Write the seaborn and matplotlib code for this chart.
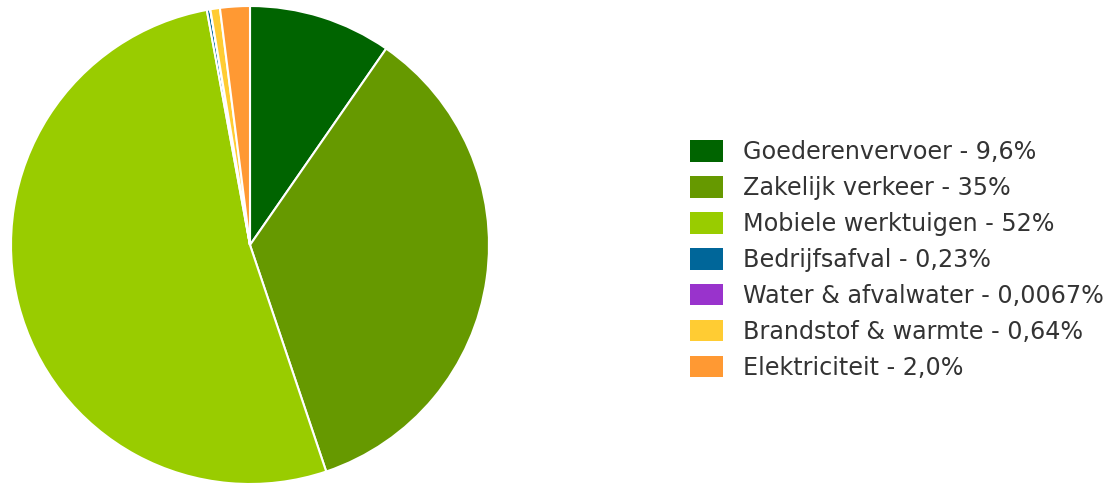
import matplotlib
matplotlib.use("Agg")
import matplotlib.pyplot as plt
import seaborn as sns

categories = ["Goederenvervoer", "Zakelijk verkeer", "Mobiele werktuigen", "Bedrijfsafval",
              "Water & afvalwater", "Brandstof & warmte", "Elektriciteit"]
values = [9.6, 35, 52, 0.23, 0.0067, 0.64, 2.0]
value_labels = ["9,6%", "35%", "52%", "0,23%", "0,0067%", "0,64%", "2,0%"]
colors = ["#006400", "#669900", "#99cc00", "#006699", "#9933cc", "#ffcc33", "#ff9933"]

sns.set_style("white")
plt.rcParams['font.family'] = ['DejaVu Sans']

W, H = 1112, 483
fig = plt.figure(figsize=(W / 100, H / 100), dpi=100)
cx, cy, r = 250, 245, 239
ax = fig.add_axes([(cx - r) / W, (H - cy - r) / H, 2 * r / W, 2 * r / H])
wedges, _ = ax.pie(values, colors=colors, startangle=90, counterclock=False,
                   wedgeprops=dict(edgecolor="white", linewidth=1.5))
ax.set_aspect("equal")
ax.set_xlim(-1, 1)
ax.set_ylim(-1, 1)
ax.axis("off")

labels = [f"{c} - {v}" for c, v in zip(categories, value_labels)]
leg = fig.legend(wedges, labels, loc="center left", bbox_to_anchor=(690 / W, 1 - 260 / H),
                 frameon=False, fontsize=17.2, handlelength=1.38, handleheight=1.0,
                 handletextpad=0.84, labelspacing=0.5, borderpad=0, borderaxespad=0)
for t in leg.get_texts():
    t.set_color("#333333")
for h in leg.legend_handles:
    h.set_edgecolor("none")

fig.savefig("out.png", dpi=100)
